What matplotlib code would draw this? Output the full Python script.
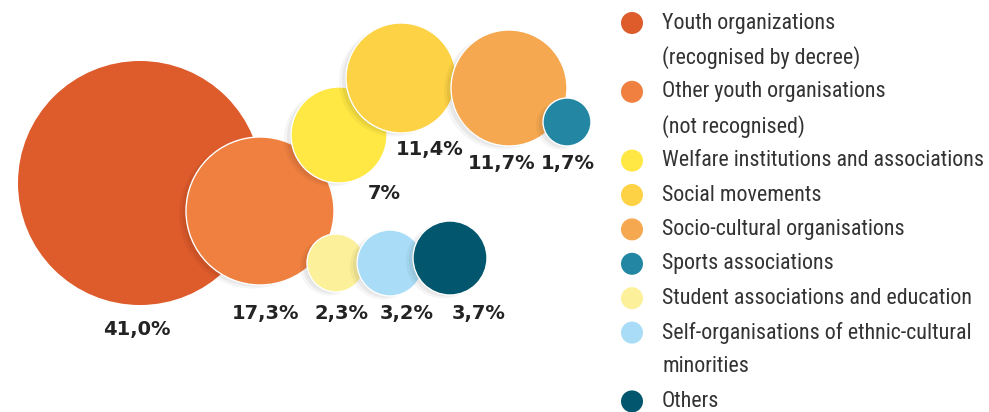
import matplotlib
matplotlib.use("Agg")
import matplotlib.pyplot as plt
from matplotlib import font_manager
from matplotlib.patches import Circle

# ---------------- data ----------------
categories = ["Youth organizations\n(recognised by decree)",
              "Other youth organisations\n(not recognised)",
              "Welfare institutions and associations",
              "Social movements",
              "Socio-cultural organisations",
              "Sports associations",
              "Student associations and education",
              "Self-organisations of ethnic-cultural\nminorities",
              "Others"]
shares = [41.0, 17.3, 7.0, 11.4, 11.7, 1.7, 2.3, 3.2, 3.7]
share_labels = ["41,0%", "17,3%", "7%", "11,4%", "11,7%", "1,7%", "2,3%", "3,2%", "3,7%"]

colors = ["#DE5B2B", "#EF8040", "#FFE843", "#FDD244", "#F5A84F",
          "#2386A3", "#FCF09A", "#A9DCF6", "#02566D"]

# ---------------- layout (pixels) ----------------
centers = [(140, 183), (260, 211), (339, 135), (401, 78), (509, 88),
           (567, 122), (336, 263), (390, 263), (450, 258)]
radii = [122, 74, 48, 55, 58, 24, 29, 33, 37]
label_pos = [(137, 330), (266, 314), (384, 193), (430, 149), (502, 163),
             (568, 163), (341, 314), (407, 314), (479, 314)]

# pick a wide geometric family that really has a bold face installed
bold_fams = {f.name for f in font_manager.fontManager.ttflist
             if f.weight in (700, "bold") and f.style == "normal"}
label_font = next((n for n in ["Montserrat", "Red Hat Display", "Outfit",
                               "Archivo", "Sofia Sans"] if n in bold_fams),
                  "DejaVu Sans")

W, H = 989, 412
fig = plt.figure(figsize=(W / 100, H / 100), dpi=100)
ax = fig.add_axes([0, 0, 1, 1])
ax.set_xlim(0, W)
ax.set_ylim(H, 0)
ax.set_aspect("equal")
ax.axis("off")

# bubbles, each with a soft shadow to the lower left
for i, (c, r) in enumerate(zip(centers, radii)):
    if i > 0:
        for k, a in enumerate([0.04, 0.05, 0.06]):
            off = 7 - 2 * k
            ax.add_patch(Circle((c[0] - off, c[1] + off * 0.5), r - k,
                                facecolor="black", edgecolor="none",
                                alpha=a, zorder=2 * i + 1))
    ax.add_patch(Circle(c, r, facecolor=colors[i],
                        edgecolor="white" if i > 0 else "none",
                        linewidth=1.0, zorder=2 * i + 2))

for (x, y), s in zip(label_pos, share_labels):
    ax.text(x, y, s, ha="center", va="center", fontsize=14,
            fontweight="bold", color="#232323",
            family=[label_font, "DejaVu Sans"], zorder=50)

# legend
row0, step = 23, 34.4
row = 0
for cat, col in zip(categories, colors):
    ax.add_patch(Circle((632, row0 + row * step), 11, facecolor=col,
                        edgecolor="none", zorder=50))
    for line in cat.split("\n"):
        ax.text(662, row0 + row * step, line, ha="left", va="center",
                fontsize=15.8, color="#333333",
                family=["Roboto Condensed", "DejaVu Sans"], zorder=50)
        row += 1

fig.savefig("out.png", dpi=100)
